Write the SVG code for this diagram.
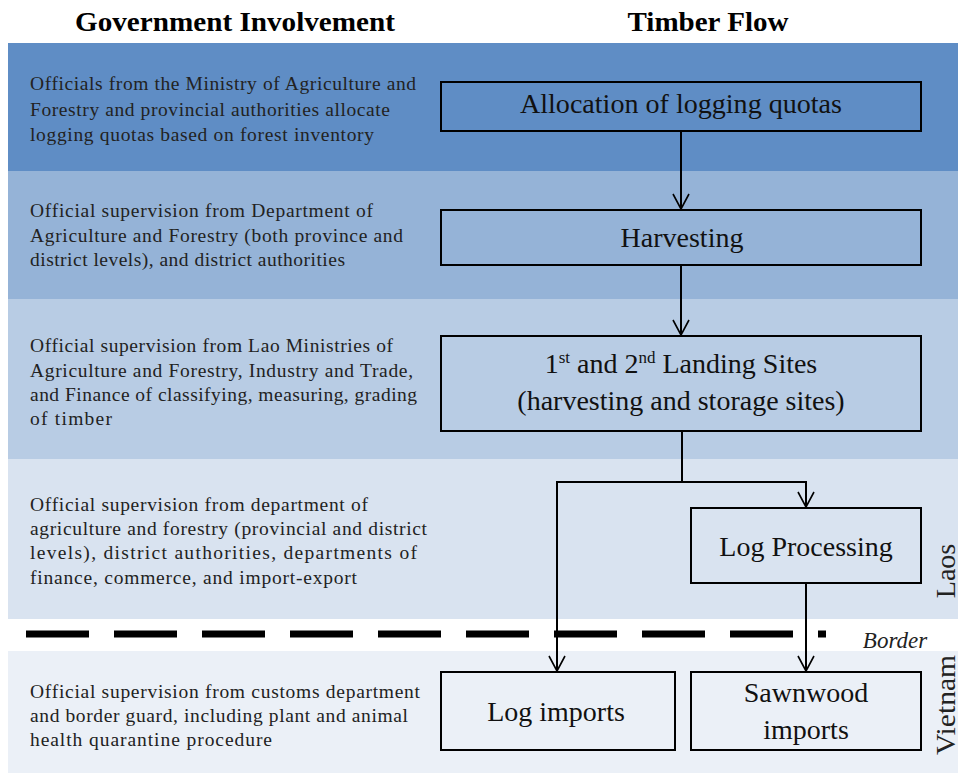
<svg xmlns="http://www.w3.org/2000/svg" width="961" height="774" viewBox="0 0 961 774">
<style>
text{font-family:"Liberation Serif","Times New Roman",serif}
.hdr{font-weight:bold;font-size:27px;fill:#000;text-anchor:middle}
.desc{font-size:19.5px;fill:#222}
.box{fill:none;stroke:#000;stroke-width:2}
.lbl{font-size:28px;fill:#111;text-anchor:middle}
.conn{fill:none;stroke:#000;stroke-width:2}
.side{font-size:28px;fill:#222;text-anchor:middle}
</style>
<defs>
<marker id="arr" markerWidth="20" markerHeight="20" refX="10" refY="16" orient="0" markerUnits="userSpaceOnUse" viewBox="0 0 20 20">
<path d="M2,1 L10,16 L18,1" fill="none" stroke="#000" stroke-width="1.6"/>
</marker>
</defs>
<rect width="961" height="774" fill="#fff"/>
<g id="bands">
<rect x="8" y="43" width="950" height="128" fill="#5f8dc5"/>
<rect x="8" y="171" width="950" height="128" fill="#95b3d7"/>
<rect x="8" y="299" width="950" height="160" fill="#b8cce4"/>
<rect x="8" y="459" width="950" height="160" fill="#d9e3f0"/>
<rect x="8" y="651" width="950" height="122" fill="#ebf0f7"/>
</g>
<g id="headers">
<text class="hdr" x="235" y="31" textLength="320" lengthAdjust="spacingAndGlyphs">Government Involvement</text>
<text class="hdr" x="708" y="31" textLength="161" lengthAdjust="spacingAndGlyphs">Timber Flow</text>
</g>
<g id="descriptions">
<text class="desc" x="30" y="90" textLength="386">Officials from the Ministry of Agriculture and</text>
<text class="desc" x="30" y="116" textLength="360">Forestry and provincial authorities allocate</text>
<text class="desc" x="30" y="141" textLength="344">logging quotas based on forest inventory</text>
<text class="desc" x="30" y="217" textLength="343">Official supervision from Department of</text>
<text class="desc" x="30" y="242" textLength="373">Agriculture and Forestry (both province and</text>
<text class="desc" x="30" y="266" textLength="315">district levels), and district authorities</text>
<text class="desc" x="30" y="352" textLength="363">Official supervision from Lao Ministries of</text>
<text class="desc" x="30" y="377" textLength="383">Agriculture and Forestry, Industry and Trade,</text>
<text class="desc" x="30" y="401" textLength="387">and Finance of classifying, measuring, grading</text>
<text class="desc" x="30" y="425" textLength="82">of timber</text>
<text class="desc" x="30" y="511" textLength="338">Official supervision from department of</text>
<text class="desc" x="30" y="535" textLength="397">agriculture and forestry (provincial and district</text>
<text class="desc" x="30" y="559" textLength="387">levels), district authorities, departments of</text>
<text class="desc" x="30" y="584" textLength="327">finance, commerce, and import-export</text>
<text class="desc" x="30" y="698" textLength="390">Official supervision from customs department</text>
<text class="desc" x="30" y="722" textLength="378">and border guard, including plant and animal</text>
<text class="desc" x="30" y="746" textLength="242">health quarantine  procedure</text>
</g>
<g id="node-allocation">
<rect class="box" x="441" y="82" width="480" height="49"/>
<text class="lbl" x="681" y="113" textLength="322" lengthAdjust="spacingAndGlyphs">Allocation of logging quotas</text>
</g>
<g id="node-harvesting">
<rect class="box" x="441" y="210" width="480" height="55"/>
<text class="lbl" x="682" y="247">Harvesting</text>
</g>
<g id="node-landing">
<rect class="box" x="441" y="336" width="480" height="95"/>
<text class="lbl" x="681" y="373">1<tspan font-size="17" dy="-10">st</tspan><tspan dy="10"> and 2</tspan><tspan font-size="17" dy="-10">nd</tspan><tspan dy="10"> Landing Sites</tspan></text>
<text class="lbl" x="681" y="410">(harvesting and storage sites)</text>
</g>
<g id="node-logprocessing">
<rect class="box" x="691" y="508" width="230" height="75"/>
<text class="lbl" x="806" y="556">Log Processing</text>
</g>
<g id="node-logimports">
<rect class="box" x="441" y="672" width="234" height="78"/>
<text class="lbl" x="556" y="721">Log imports</text>
</g>
<g id="node-sawnwood">
<rect class="box" x="691" y="672" width="230" height="78"/>
<text class="lbl" x="806" y="702">Sawnwood</text>
<text class="lbl" x="806" y="739">imports</text>
</g>
<g id="border">
<line x1="26" y1="634" x2="826" y2="634" stroke="#000" stroke-width="7" stroke-dasharray="63 25"/>
<text x="895" y="648" font-style="italic" font-size="23" fill="#222" text-anchor="middle">Border</text>
<text class="side" transform="translate(955,571) rotate(-90)">Laos</text>
<text class="side" transform="translate(955,705) rotate(-90)" textLength="100" lengthAdjust="spacingAndGlyphs">Vietnam</text>
</g>
<g id="connectors">
<line class="conn" x1="681" y1="131" x2="681" y2="209" marker-end="url(#arr)"/>
<line class="conn" x1="681" y1="265" x2="681" y2="335" marker-end="url(#arr)"/>
<polyline class="conn" points="682,431 682,482"/>
<polyline class="conn" points="557,671 557,482 806,482 806,507" marker-end="url(#arr)"/>
<line class="conn" x1="557" y1="620" x2="557" y2="671" marker-end="url(#arr)"/>
<line class="conn" x1="806" y1="583" x2="806" y2="671" marker-end="url(#arr)"/>
</g>
</svg>
